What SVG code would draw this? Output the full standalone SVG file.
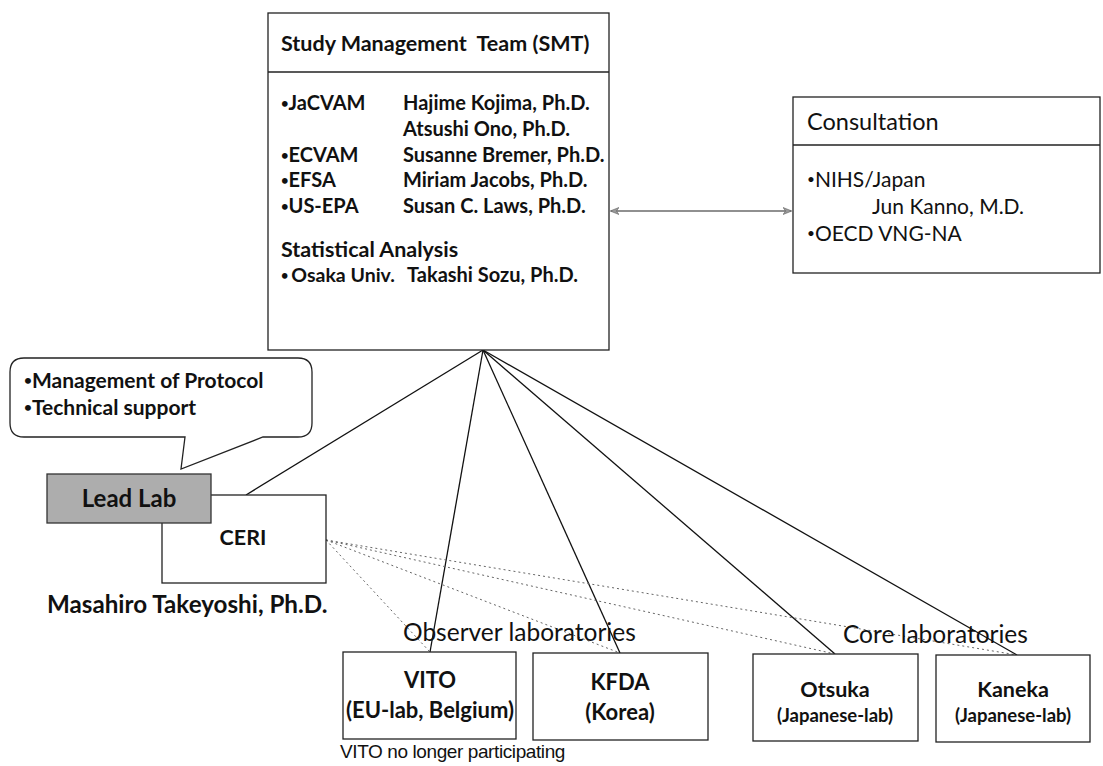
<svg xmlns="http://www.w3.org/2000/svg" width="1103" height="766" viewBox="0 0 1103 766">
<style>
.box{fill:#fff;stroke:#222;stroke-width:1.3}
.b{font-family:Lato,"Liberation Sans",sans-serif;font-weight:bold;fill:#111}
.r{font-family:Lato,"Liberation Sans",sans-serif;fill:#111}
.bu{font-size:65%;baseline-shift:18%}
.solid{stroke:#111;stroke-width:1.3;fill:none}
.dot{stroke:#666;stroke-width:1;stroke-dasharray:2 3;fill:none}
</style>
<defs>
<marker id="ah" viewBox="0 0 10 10" refX="9" refY="5" markerWidth="9" markerHeight="9" orient="auto-start-reverse" markerUnits="userSpaceOnUse">
<path d="M0,1 L10,5 L0,9 L3,5 Z" fill="#999" stroke="#555" stroke-width="0.6"/>
</marker>
</defs>
<rect width="1103" height="766" fill="#fff"/>
<g id="connectors">
<line class="solid" x1="483" y1="350" x2="246" y2="495"/>
<line class="solid" x1="483" y1="350" x2="430" y2="652"/>
<line class="solid" x1="483" y1="350" x2="620" y2="653"/>
<line class="solid" x1="483" y1="350" x2="835" y2="654"/>
<line class="solid" x1="483" y1="350" x2="1017" y2="655"/>
<line class="dot" x1="326" y1="540" x2="430" y2="652"/>
<line class="dot" x1="326" y1="540" x2="620" y2="653"/>
<line class="dot" x1="326" y1="540" x2="835" y2="654"/>
<line class="dot" x1="326" y1="540" x2="1017" y2="655"/>
<line x1="611" y1="211" x2="791" y2="211" stroke="#222" stroke-width="1.2" marker-start="url(#ah)" marker-end="url(#ah)"/>
</g>
<g id="smt">
<rect class="box" x="268" y="13" width="341" height="337"/>
<line x1="268" y1="72" x2="609" y2="72" stroke="#222" stroke-width="1.3"/>
<text class="b" x="281" y="51" font-size="21.5" xml:space="preserve">Study Management  Team (SMT)</text>
<g class="b" font-size="20">
<text x="281" y="110"><tspan class="bu">•</tspan>JaCVAM</text><text x="403" y="110">Hajime Kojima, Ph.D.</text>
<text x="403" y="136">Atsushi Ono, Ph.D.</text>
<text x="281" y="162"><tspan class="bu">•</tspan>ECVAM</text><text x="403" y="162">Susanne Bremer, Ph.D.</text>
<text x="281" y="187"><tspan class="bu">•</tspan>EFSA</text><text x="403" y="187">Miriam Jacobs, Ph.D.</text>
<text x="281" y="213"><tspan class="bu">•</tspan>US-EPA</text><text x="403" y="213">Susan C. Laws, Ph.D.</text>
<text x="281" y="257" font-size="21.5">Statistical Analysis</text>
<text x="281" y="282" font-size="19.5"><tspan class="bu">•</tspan><tspan dx="3">Osaka Univ.</tspan></text><text x="407" y="282">Takashi Sozu, Ph.D.</text>
</g>
</g>
<g id="consultation">
<rect class="box" x="793" y="97" width="307" height="176"/>
<line x1="793" y1="145" x2="1100" y2="145" stroke="#222" stroke-width="1.3"/>
<text class="r" x="807" y="130" font-size="23.5">Consultation</text>
<g class="r" font-size="21">
<text x="807" y="187"><tspan class="bu">•</tspan>NIHS/Japan</text>
<text x="872" y="214">Jun Kanno, M.D.</text>
<text x="807" y="241"><tspan class="bu">•</tspan>OECD VNG-NA</text>
</g>
</g>
<g id="callout">
<path class="box" d="M24,358 H298 Q312,358 312,372 V423 Q312,437 298,437 H263 L181,469 L185,437 H24 Q10,437 10,423 V372 Q10,358 24,358 Z"/>
<text class="b" x="24" y="388" font-size="21"><tspan class="bu">•</tspan>Management of Protocol</text>
<text class="b" x="24" y="415" font-size="21"><tspan class="bu">•</tspan>Technical support</text>
</g>
<g id="ceri">
<rect class="box" x="162" y="495" width="164" height="88"/>
<text class="b" x="243" y="545" font-size="21.5" text-anchor="middle">CERI</text>
<text class="b" x="47" y="613" font-size="24.2">Masahiro Takeyoshi, Ph.D.</text>
</g>
<g id="leadlab">
<rect x="47" y="474" width="164" height="49" fill="#adadad" stroke="#333" stroke-width="1.3"/>
<text class="b" x="129" y="507" font-size="24" text-anchor="middle" fill="#2a2a2a">Lead Lab</text>
</g>
<g id="labels">
<text class="r" x="403" y="641" font-size="24.5">Observer laboratories</text>
<text class="r" x="843" y="643" font-size="24.5">Core laboratories</text>
<text x="340" y="758" font-family="'Liberation Sans',Arial,sans-serif" font-size="19" fill="#111" letter-spacing="-0.4">VITO no longer participating</text>
</g>
<g id="vito">
<rect class="box" x="343" y="652" width="173" height="87"/>
<text class="b" x="430" y="688" font-size="22" text-anchor="middle">VITO</text>
<text class="b" x="430" y="718" font-size="22" text-anchor="middle">(EU-lab, Belgium)</text>
</g>
<g id="kfda">
<rect class="box" x="533" y="653" width="175" height="87"/>
<text class="b" x="620" y="690" font-size="22" text-anchor="middle">KFDA</text>
<text class="b" x="620" y="720" font-size="22" text-anchor="middle">(Korea)</text>
</g>
<g id="otsuka">
<rect class="box" x="753" y="654" width="165" height="87"/>
<text class="b" x="835" y="697" font-size="21.5" text-anchor="middle">Otsuka</text>
<text class="b" x="835" y="722" font-size="18.5" text-anchor="middle">(Japanese-lab)</text>
</g>
<g id="kaneka">
<rect class="box" x="936" y="655" width="154" height="87"/>
<text class="b" x="1013" y="697" font-size="21.5" text-anchor="middle">Kaneka</text>
<text class="b" x="1013" y="722" font-size="18.5" text-anchor="middle">(Japanese-lab)</text>
</g>
</svg>
